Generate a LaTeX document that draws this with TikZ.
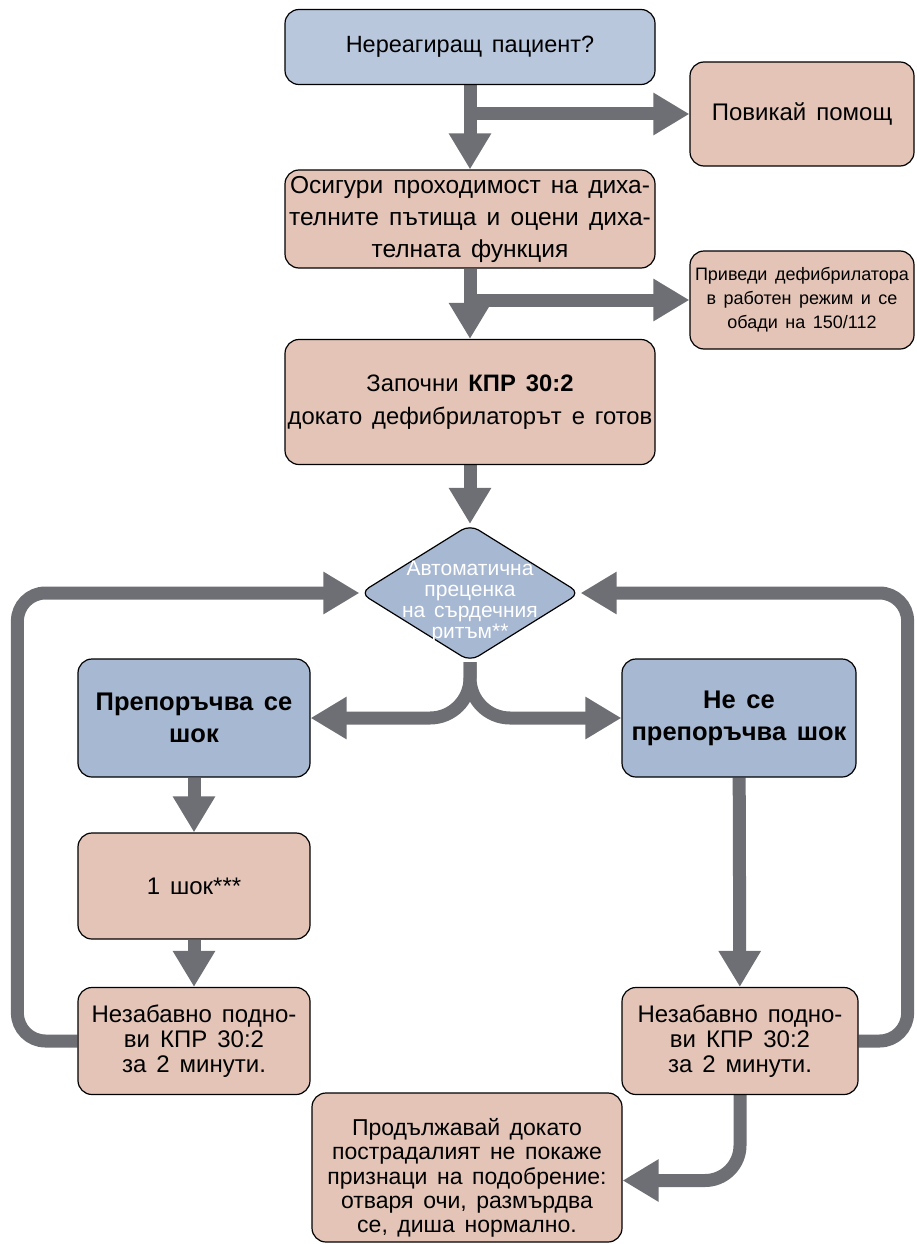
\documentclass[tikz,border=0pt]{standalone}
\usepackage{fontspec}
\setmainfont{Liberation Sans}[WordSpace=1.5]
\usetikzlibrary{arrows.meta,shapes.geometric}
\definecolor{qblue}{RGB}{167,184,210}
\definecolor{qbluelight}{RGB}{185,199,221}
\definecolor{apink}{RGB}{227,196,183}
\definecolor{fgray}{RGB}{110,111,116}
\pgfdeclarelayer{edgelayer}
\pgfdeclarelayer{nodelayer}
\pgfsetlayers{edgelayer,nodelayer,main}
\newcommand{\topgap}[1]{\rule{0pt}{#1}}
\tikzstyle{ask}=[rectangle, rounded corners=14pt, fill=qblue, draw=black, line width=1.2pt, align=center, font=\fontsize{25.5}{32}\selectfont\bfseries]
\tikzstyle{act}=[rectangle, rounded corners=14pt, fill=apink, draw=black, line width=1.2pt, align=center, inner xsep=1pt, font=\fontsize{24}{25}\selectfont]
\tikzstyle{decision}=[diamond, rounded corners=10pt, fill=qblue, draw=black, line width=1.2pt, align=center, text=white, inner sep=-30pt, font=\fontsize{21}{21}\selectfont]
\tikzstyle{flow}=[draw=fgray, line width=13pt, -{Triangle[length=36pt,width=40pt]}]

\begin{document}
\begin{tikzpicture}[x=1pt, y=-1pt]
            \useasboundingbox (0,0) rectangle (917,1244);
            \begin{pgfonlayer}{nodelayer}
                \node [style=ask, fill=qbluelight, font=\fontsize{23.5}{30}\selectfont, minimum width=370, minimum height=75] (start) at (470, 47) {Нереагиращ пациент?};
                \node [style=act, minimum width=224, minimum height=104] (help) at (802, 114) {Повикай помощ};
                \node [style=act, font=\fontsize{24.5}{32}\selectfont, minimum width=370, minimum height=98] (airway) at (470, 219) {Осигури проходимост на диха-\\телните пътища и оцени диха-\\телната функция};
                \node [style=act, font=\fontsize{18}{24}\selectfont, minimum width=224, minimum height=98] (aed) at (802, 300) {Приведи дефибрилатора\\в работен режим и се\\обади на 150/112};
                \node [style=act, font=\fontsize{23.8}{33}\selectfont, minimum width=370, minimum height=125] (cpr) at (470, 402) {Започни \textbf{КПР 30:2}\\докато дефибрилаторът е готов};
                \node [style=decision, minimum width=220, minimum height=137] (check) at (470, 593) {\topgap{33pt}Автоматична\\преценка\\на сърдечния\\ритъм**};
                \node [style=ask, minimum width=232, minimum height=118] (shock) at (194, 718) {Препоръчва се\\шок};
                \node [style=ask, minimum width=234, minimum height=118] (noshock) at (739, 718) {Не се\\препоръчва шок};
                \node [style=act, minimum width=232, minimum height=106] (oneshock) at (194, 886) {1 шок***};
                \node [style=act, minimum width=232, minimum height=107] (resumeL) at (194, 1041) {Незабавно подно-\\ви КПР 30:2\\за 2 минути.};
                \node [style=act, minimum width=236, minimum height=107] (resumeR) at (740, 1041) {Незабавно подно-\\ви КПР 30:2\\за 2 минути.};
                \node [style=act, font=\fontsize{23}{24.3}\selectfont, minimum width=310, minimum height=149] (cont) at (467, 1167.5) {\topgap{38pt}Продължавай докато\\пострадалият не покаже\\признаци на подобрение:\\отваря очи, размърдва\\се, диша нормално.};
            \end{pgfonlayer}
            \begin{pgfonlayer}{edgelayer}
                \coordinate (split1) at (470, 114);
                \coordinate (split2) at (470, 300);
                \draw [style=flow] (start) to (airway);
                \draw [style=flow] (split1) to (help);
                \draw [style=flow] (airway) to (cpr);
                \draw [style=flow] (split2) to (aed);
                \draw [style=flow] (cpr) to (check);
                \draw [style=flow, rounded corners=40pt] (check.south) |- (shock.east);
                \draw [style=flow, rounded corners=40pt] (check.south) |- (noshock.west);
                \draw [style=flow] (shock) to (oneshock);
                \draw [style=flow] (oneshock) to (resumeL);
                \draw [style=flow] (noshock) to (resumeR);
                \draw [style=flow, rounded corners=28pt] (resumeL.west) -- ++(-60,0) |- (check.west);
                \draw [style=flow, rounded corners=28pt] (resumeR.east) -- ++(49,0) |- (check.east);
                \draw [style=flow, rounded corners=35pt] (resumeR.south) |- ([yshift=-13pt]cont.east);
            \end{pgfonlayer}
        \end{tikzpicture}
\end{document}
